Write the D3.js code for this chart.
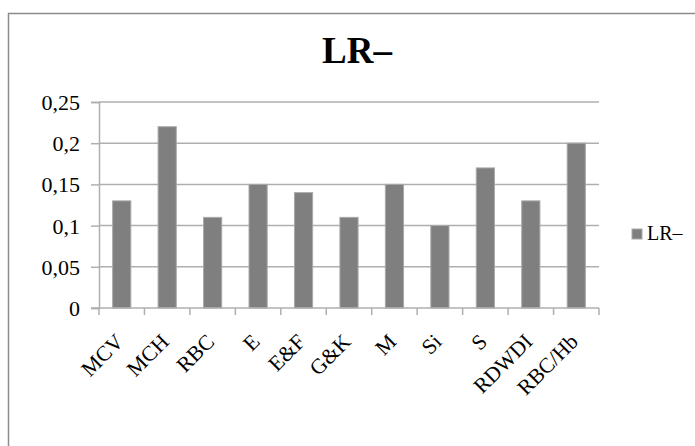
<!DOCTYPE html>
<html>
<head>
<meta charset="utf-8">
<script src="https://cdn.jsdelivr.net/npm/d3@7"></script>
<style>
  html, body { margin: 0; padding: 0; background: #fff; }
  svg { display: block; }
</style>
</head>
<body>
<svg id="chart" width="695" height="446"></svg>
<script>
// LR– values per index
const categories = ["MCV", "MCH", "RBC", "E", "E&F", "G&K", "M", "Si", "S", "RDWDI", "RBC/Hb"];
const lrMinus = [0.13, 0.22, 0.11, 0.15, 0.14, 0.11, 0.15, 0.10, 0.17, 0.13, 0.20];
const yTicks = [0, 0.05, 0.1, 0.15, 0.2, 0.25];
const yTickLabels = ["0", "0,05", "0,1", "0,15", "0,2", "0,25"];
const seriesName = "LR–";
const chartTitle = "LR–";

const SERIF = "'Liberation Serif', 'Times New Roman', 'DejaVu Serif', serif";

const svg = d3.select("#chart").style("font-family", SERIF);

// outer chart frame
svg.append("rect")
  .attr("x", 8.5).attr("y", 13.5)
  .attr("width", 720).attr("height", 470)
  .attr("fill", "#fff")
  .attr("stroke", "#8c8c8c").attr("stroke-width", 1.5);

const plot = { left: 99, right: 599, top: 102, bottom: 308 };

const x = d3.scaleBand()
  .domain(categories)
  .range([plot.left, plot.right])
  .paddingInner(0.6)
  .paddingOuter(0.3);

const y = d3.scaleLinear()
  .domain([0, 0.25])
  .range([plot.bottom, plot.top]);

// title
svg.append("text")
  .attr("x", 357).attr("y", 63)
  .attr("text-anchor", "middle")
  .style("font-family", SERIF)
  .style("font-size", "37px")
  .style("font-weight", "bold")
  .text(chartTitle);

// horizontal gridlines
svg.append("g")
  .selectAll("line")
  .data(yTicks.filter(d => d > 0))
  .join("line")
  .attr("x1", plot.left).attr("x2", plot.right)
  .attr("y1", d => y(d)).attr("y2", d => y(d))
  .attr("stroke", "#afafaf").attr("stroke-width", 1.5);

// y axis
const yAxis = d3.axisLeft(y)
  .tickValues(yTicks)
  .tickSize(8)
  .tickPadding(11)
  .tickFormat((d, i) => yTickLabels[i]);

const gy = svg.append("g")
  .attr("transform", `translate(${plot.left},0)`)
  .call(yAxis)
  .attr("font-family", SERIF)
  .attr("font-size", 22);
gy.select(".domain").attr("stroke", "#afafaf").attr("stroke-width", 1.5);
gy.selectAll(".tick line").attr("stroke", "#afafaf").attr("stroke-width", 1.5);
gy.selectAll(".tick text")
  .style("font-family", SERIF)
  .style("font-size", "22px")
  .attr("fill", "#000")
  .attr("dy", "0.34em");

// bars
svg.append("g")
  .selectAll("rect")
  .data(lrMinus)
  .join("rect")
  .attr("x", (d, i) => x(categories[i]))
  .attr("y", d => y(d))
  .attr("width", x.bandwidth())
  .attr("height", d => y(0) - y(d))
  .attr("fill", "#7f7f7f")
  .attr("stroke", "#a9a9a9")
  .attr("stroke-width", 1);

// x axis: baseline and ticks at category boundaries
const boundaries = d3.range(categories.length + 1).map(i => plot.left + i * (plot.right - plot.left) / categories.length);
const gx = svg.append("g");
gx.append("line")
  .attr("x1", plot.left - 8).attr("x2", plot.right)
  .attr("y1", plot.bottom).attr("y2", plot.bottom)
  .attr("stroke", "#afafaf").attr("stroke-width", 1.5);
gx.selectAll("line.tick")
  .data(boundaries)
  .join("line")
  .attr("class", "tick")
  .attr("x1", d => d).attr("x2", d => d)
  .attr("y1", plot.bottom).attr("y2", plot.bottom + 7)
  .attr("stroke", "#afafaf").attr("stroke-width", 1.5);

// rotated category labels
gx.selectAll("text")
  .data(categories)
  .join("text")
  .attr("text-anchor", "end")
  .attr("transform", d => `translate(${x(d) + x.bandwidth() / 2 + 3},343) rotate(-45)`)
  .style("font-family", SERIF)
  .style("font-size", "21.5px")
  .text(d => d);

// legend
const legend = svg.append("g").attr("transform", "translate(632,229)");
legend.append("rect")
  .attr("width", 10).attr("height", 10)
  .attr("fill", "#7f7f7f").attr("stroke", "#a9a9a9").attr("stroke-width", 1);
legend.append("text")
  .attr("x", 15).attr("y", 11)
  .style("font-family", SERIF)
  .style("font-size", "20px")
  .text(seriesName);
</script>
</body>
</html>
